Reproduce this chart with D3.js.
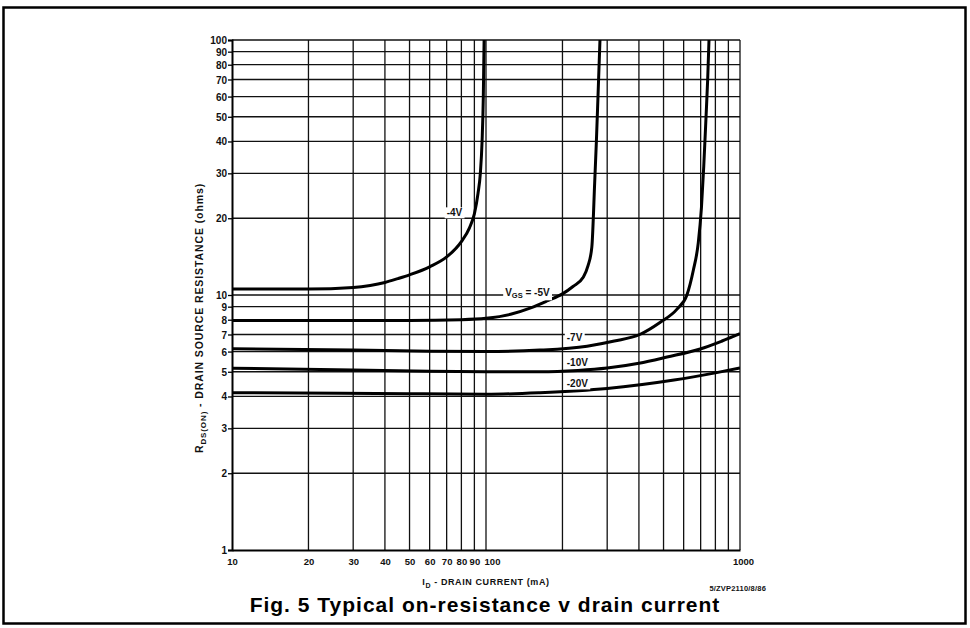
<!DOCTYPE html>
<html>
<head>
<meta charset="utf-8">
<title>Typical on-resistance v drain current</title>
<script src="https://cdnjs.cloudflare.com/ajax/libs/d3/7.8.5/d3.min.js"></script>
<style>
body { margin: 0; background: #fff; }
svg { display: block; }
.grid line { stroke: #111; stroke-width: 1.3; }
.tick-label { font-family: "Liberation Sans", Arial, sans-serif; font-size: 9.5px; font-weight: bold; fill: #111; }
.curve { fill: none; stroke: #000; stroke-width: 3; }
.curve-label { font-family: "Liberation Sans", Arial, sans-serif; font-size: 10px; font-weight: bold; fill: #111; }
.axis-title { font-family: "Liberation Sans", Arial, sans-serif; font-size: 9px; font-weight: bold; fill: #111; letter-spacing: 0.6px; }
.title { font-family: "Liberation Sans", Arial, sans-serif; font-size: 21px; font-weight: bold; fill: #000; text-anchor: middle; letter-spacing: 1px; }
</style>
</head>
<body>
<svg width="970" height="628"></svg>
<script>
// tick values
var xLabels = [10, 20, 30, 40, 50, 60, 70, 80, 90, 100, 1000];
var xGrid = [20, 30, 40, 50, 60, 70, 80, 90, 100, 200, 300, 400, 500, 600, 700, 800, 900, 1000];
var yLabels = [1, 2, 3, 4, 5, 6, 7, 8, 9, 10, 20, 30, 40, 50, 60, 70, 80, 90, 100];
var yGrid = [2, 3, 4, 5, 6, 7, 8, 9, 10, 20, 30, 40, 50, 60, 70, 80, 90, 100];

// curves: [drain current mA, resistance ohms]
var vgs4 = [[10,10.55],[20,10.55],[30,10.7],[35,10.9],[40,11.2],[45,11.6],[50,12],[60,12.9],[70,14.1],[80,16.2],[86,18.3],[90,20.8],[93,25],[95,30],[96.5,40],[97.6,60],[98.3,100]];
var vgs5 = [[10,7.95],[50,7.95],[80,8],[100,8.1],[125,8.4],[150,8.9],[175,9.5],[200,10.1],[220,10.8],[241,11.7],[252,13],[261,15.4],[268,28],[272,40],[276,60],[281,100]];
var vgs7 = [[10,6.15],[30,6.08],[60,6.02],[100,6.0],[163,6.08],[250,6.3],[320,6.6],[403,7.0],[484,7.8],[565,8.8],[618,10],[655,12.5],[685,16],[705,22],[720,32],[735,50],[746,70],[755,100]];
var vgs10 = [[10,5.16],[30,5.08],[60,5.02],[100,5.0],[163,5.0],[230,5.06],[300,5.17],[400,5.4],[516,5.71],[697,6.14],[850,6.6],[1000,7.05]];
var vgs20 = [[10,4.14],[50,4.1],[100,4.08],[163,4.14],[300,4.3],[550,4.64],[800,4.95],[1000,5.17]];

var svg = d3.select("svg");
var pArea = [232, 40, 740, 550];

var x = d3.scaleLog().domain([10, 1000]).range([pArea[0], pArea[2]]);
var y = d3.scaleLog().domain([1, 100]).range([pArea[3], pArea[1]]);

// outer frame
svg.append("rect")
  .attr("x", 3.5).attr("y", 7.5)
  .attr("width", 962).attr("height", 616)
  .attr("fill", "none").attr("stroke", "#000").attr("stroke-width", 2.5);

var grid = svg.append("g").attr("class", "grid");
grid.selectAll(".v").data(xGrid).enter().append("line")
  .attr("x1", function (d) { return x(d); }).attr("x2", function (d) { return x(d); })
  .attr("y1", pArea[1]).attr("y2", pArea[3]);
grid.selectAll(".h").data(yGrid).enter().append("line")
  .attr("y1", function (d) { return y(d); }).attr("y2", function (d) { return y(d); })
  .attr("x1", pArea[0]).attr("x2", pArea[2]);

// axes
var xAxis = svg.append("g")
  .attr("transform", "translate(0," + pArea[3] + ")")
  .call(d3.axisBottom(x).tickValues(xLabels).tickSize(0).tickPadding(6).tickFormat(d3.format("d")));
var yAxis = svg.append("g")
  .attr("transform", "translate(" + pArea[0] + ",0)")
  .call(d3.axisLeft(y).tickValues(yLabels).tickSize(4).tickPadding(1).tickFormat(d3.format("d")));
[xAxis, yAxis].forEach(function (a) {
  a.select(".domain").attr("stroke", "#000").attr("stroke-width", 2);
  a.selectAll(".tick line").attr("stroke", "#000").attr("stroke-width", 1.3);
  a.selectAll(".tick text").attr("class", "tick-label");
});
xAxis.selectAll(".tick text").attr("dy", "0.9em")
  .attr("dx", function (d) { return d === 100 ? 6 : (d === 1000 ? 3 : 0); });
yAxis.selectAll(".tick text").attr("dy", "0.35em").style("font-size", "10px");

// curves
var line = d3.line()
  .x(function (d) { return x(d[0]); })
  .y(function (d) { return y(d[1]); })
  .curve(d3.curveMonotoneX);

svg.append("clipPath").attr("id", "plot-clip").append("rect")
  .attr("x", pArea[0]).attr("y", pArea[1] - 1)
  .attr("width", pArea[2] - pArea[0]).attr("height", pArea[3] - pArea[1] + 1);

var curves = svg.append("g").attr("clip-path", "url(#plot-clip)");
[vgs4, vgs5, vgs7, vgs10, vgs20].forEach(function (s) {
  curves.append("path").attr("class", "curve").attr("d", line(s));
});

// curve labels (mA, ohms position)
function curveLabel(px, py, parts) {
  var g = svg.append("g");
  var t = g.append("text").attr("class", "curve-label").attr("x", x(px)).attr("y", y(py)).attr("dy", "0.35em");
  parts.forEach(function (p) {
    var s = t.append("tspan").text(p[0]);
    if (p[1]) s.attr("font-size", "7.5px").attr("dy", "2");
    if (p[2]) s.attr("dy", "-2");
  });
  var bb = t.node().getBBox();
  g.insert("rect", "text")
    .attr("x", bb.x - 2).attr("y", bb.y).attr("width", bb.width + 4).attr("height", bb.height)
    .attr("fill", "#fff");
}
curveLabel(70, 21, [["-4V"]]);
curveLabel(119, 10.2, [["V"], ["GS", true], [" = -5V", false, true]]);
curveLabel(208, 6.84, [["-7V"]]);
curveLabel(208, 5.46, [["-10V"]]);
curveLabel(208, 4.48, [["-20V"]]);

// axis titles
var yt = svg.append("text").attr("class", "axis-title")
  .attr("transform", "translate(203,318) rotate(-90)")
  .attr("text-anchor", "middle").style("font-size", "10.5px").style("letter-spacing", "0.9px");
yt.append("tspan").text("R");
yt.append("tspan").text("DS(ON)").attr("font-size", "8px").attr("dy", "3");
yt.append("tspan").text(" - DRAIN  SOURCE  RESISTANCE  (ohms)").attr("dy", "-3");

var xt = svg.append("text").attr("class", "axis-title")
  .attr("x", 486).attr("y", 585).attr("text-anchor", "middle");
xt.append("tspan").text("I");
xt.append("tspan").text("D").attr("font-size", "7px").attr("dy", "3");
xt.append("tspan").text(" - DRAIN  CURRENT  (mA)").attr("dy", "-3");

svg.append("text").attr("class", "axis-title")
  .attr("x", 766).attr("y", 591).attr("text-anchor", "end")
  .style("font-size", "7.5px").style("letter-spacing", "0.2px")
  .text("5/ZVP2110/8/86");

svg.append("text").attr("class", "title")
  .attr("x", 485).attr("y", 612)
  .text("Fig. 5 Typical on-resistance v drain current");
</script>
</body>
</html>
